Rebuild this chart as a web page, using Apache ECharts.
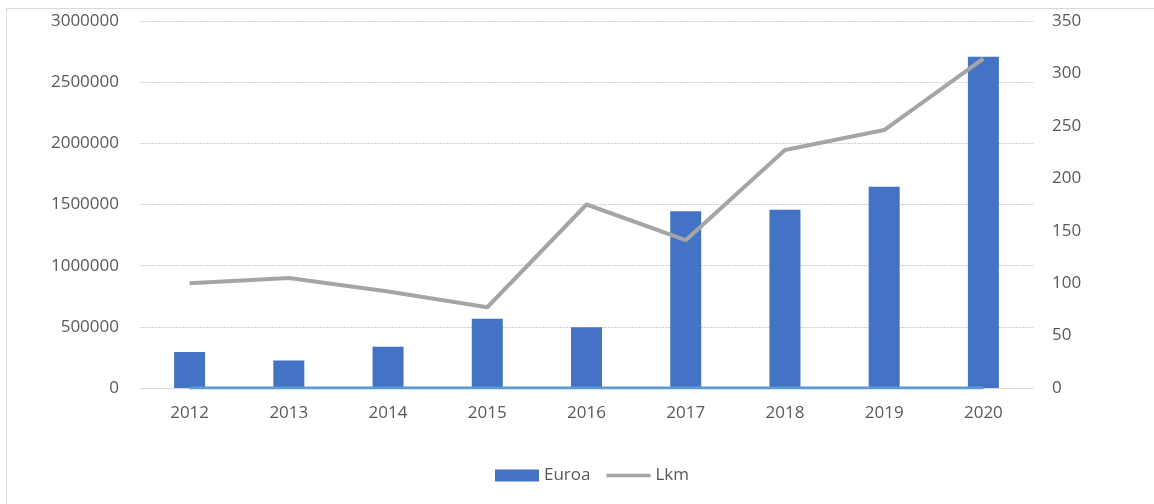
<!DOCTYPE html>
<html>
<head>
<meta charset="utf-8">
<script src="https://cdn.jsdelivr.net/npm/echarts@6/dist/echarts.min.js"></script>
<style>
html,body{margin:0;padding:0;background:#fff;}
#frame{position:absolute;left:6px;top:8px;width:1148px;height:496px;border-left:1px solid #d9d9d9;border-top:1px solid #d9d9d9;box-sizing:border-box;}
#chart{position:absolute;left:0;top:0;width:1154px;height:504px;}
</style>
</head>
<body>
<div id="frame"></div>
<div id="chart"></div>
<script>
const categories = ['2012','2013','2014','2015','2016','2017','2018','2019','2020'];
const euroa = [295000, 225000, 337000, 566000, 496000, 1444000, 1457000, 1645000, 2707000];
const lkm = [100, 105, 92, 77, 175, 141, 227, 246, 314];
const baseline = [0, 0, 0, 0, 0, 0, 0, 0, 0];

const font = '"Open Sans", sans-serif';
const fs = 17;
const chart = echarts.init(document.getElementById('chart'), null, {renderer: 'canvas'});
chart.setOption({
  animation: false,
  backgroundColor: 'transparent',
  grid: {left: 140, right: 121, top: 21, bottom: 116, containLabel: false},
  legend: {
    data: [
      {name: 'Euroa', icon: 'rect'},
      {name: 'Lkm', icon: 'path://M0,0 M0,4.3 L46,4.3 L46,7.7 L0,7.7 Z M46,12'}
    ],
    bottom: 15,
    left: 490,
    itemWidth: 44,
    itemHeight: 12,
    itemGap: 16,
    textStyle: {color: '#595959', fontSize: fs, fontFamily: font}
  },
  xAxis: {
    type: 'category',
    data: categories,
    axisLine: {show: true, lineStyle: {color: '#d9d9d9', width: 1}},
    axisTick: {show: false},
    axisLabel: {color: '#595959', fontSize: fs, fontFamily: font, margin: 17}
  },
  yAxis: [
    {
      type: 'value', min: 0, max: 3000000, interval: 500000,
      axisLine: {show: false}, axisTick: {show: false},
      axisLabel: {color: '#595959', fontSize: fs, fontFamily: font, margin: 21, formatter: function (v) { return String(v); }},
      splitLine: {show: true, lineStyle: {color: '#d0d0d0', type: [2, 1], width: 1}}
    },
    {
      type: 'value', min: 0, max: 350, interval: 50,
      axisLine: {show: false}, axisTick: {show: false},
      axisLabel: {color: '#595959', fontSize: fs, fontFamily: font, margin: 19},
      splitLine: {show: false}
    }
  ],
  series: [
    {
      name: 'Euroa', type: 'bar', yAxisIndex: 0, data: euroa,
      barWidth: 31,
      itemStyle: {color: '#4472c4'}
    },
    {
      name: 'base', type: 'line', yAxisIndex: 0, data: baseline,
      symbol: 'none', lineStyle: {color: '#5b9bd5', width: 3}, z: 3
    },
    {
      name: 'Lkm', type: 'line', yAxisIndex: 1, data: lkm,
      symbol: 'none', lineStyle: {color: '#a5a5a5', width: 4}, itemStyle: {color: '#a5a5a5'}, z: 4
    }
  ]
});
</script>
</body>
</html>
